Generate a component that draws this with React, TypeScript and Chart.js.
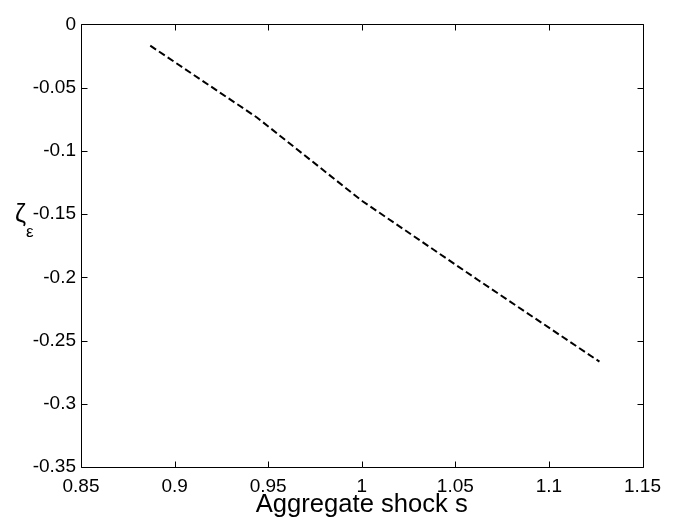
import React, { useEffect, useRef } from "react";
import { Chart, registerables } from "chart.js";

Chart.register(...registerables);

const shockValues = [0.887, 0.944, 1.0, 1.0625, 1.127];
const zetaValues = [-0.0168, -0.0736, -0.1394, -0.2025, -0.2667];
const xTickValues = [0.85, 0.9, 0.95, 1.0, 1.05, 1.1, 1.15];
const yTickValues = [0, -0.05, -0.1, -0.15, -0.2, -0.25, -0.3, -0.35];
const xTitle = "Aggregate shock s";
const yTitleMain = "ζ";
const yTitleSub = "ε";

const FONT = "'Liberation Sans', Arial, Helvetica, sans-serif";

const fmt = (v: number) => String(Number(Number(v).toFixed(2)));

const boxPlugin = {
  id: "matlabBox",
  afterDatasetsDraw(chart: any) {
    const { ctx, chartArea, scales } = chart;
    const { left, right, top, bottom } = chartArea;
    const xs = scales.x;
    const ys = scales.y;
    const tl = 6;
    ctx.save();
    ctx.strokeStyle = "#000";
    ctx.lineWidth = 1;
    ctx.setLineDash([]);
    const L = Math.round(left) + 0.5;
    const R = Math.round(right) + 0.5;
    const T = Math.round(top) + 0.5;
    const B = Math.round(bottom) + 0.5;
    ctx.beginPath();
    ctx.rect(L, T, R - L, B - T);
    ctx.stroke();
    ctx.beginPath();
    xTickValues.forEach((v) => {
      const px = Math.round(xs.getPixelForValue(v)) + 0.5;
      ctx.moveTo(px, B);
      ctx.lineTo(px, B - tl);
      ctx.moveTo(px, T);
      ctx.lineTo(px, T + tl);
    });
    yTickValues.forEach((v) => {
      const py = Math.round(ys.getPixelForValue(v)) + 0.5;
      ctx.moveTo(L, py);
      ctx.lineTo(L + tl, py);
      ctx.moveTo(R, py);
      ctx.lineTo(R - tl, py);
    });
    ctx.stroke();

    ctx.fillStyle = "#000";
    ctx.font = `25.6px ${FONT}`;
    ctx.textAlign = "center";
    ctx.textBaseline = "alphabetic";
    ctx.fillText(xTitle, (left + right) / 2, 504);

    ctx.textAlign = "left";
    ctx.font = `25px ${FONT}`;
    ctx.fillText(yTitleMain, 7, 214);
    ctx.font = `17px ${FONT}`;
    ctx.fillText(yTitleSub, 18, 229);
    ctx.restore();
  },
};

export default function App() {
  const ref = useRef<HTMLCanvasElement | null>(null);
  useEffect(() => {
    if (!ref.current) return;
    const chart = new Chart(ref.current, {
      type: "line",
      data: {
        datasets: [
          {
            data: shockValues.map((x, i) => ({ x, y: zetaValues[i] })),
            borderColor: "#000",
            borderWidth: 2,
            borderDash: [7, 3.5],
            pointRadius: 0,
            fill: false,
            tension: 0,
          },
        ],
      },
      options: {
        responsive: false,
        animation: false,
        devicePixelRatio: 1,
        layout: { padding: { left: 0, top: 7, right: 15, bottom: 0 } },
        plugins: {
          legend: { display: false },
          tooltip: { enabled: false },
          title: { display: false },
        },
        scales: {
          x: {
            type: "linear",
            min: 0.85,
            max: 1.15,
            grid: { display: false, drawTicks: false },
            border: { display: false },
            afterFit: (s: any) => {
              s.height = 50;
            },
            afterBuildTicks: (s: any) => {
              s.ticks = xTickValues.map((v) => ({ value: v }));
            },
            ticks: {
              color: "#000",
              font: { family: FONT, size: 19 },
              padding: 8,
              maxRotation: 0,
              autoSkip: false,
              callback: (v: any) => fmt(v),
            },
          },
          y: {
            type: "linear",
            min: -0.35,
            max: 0,
            grid: { display: false, drawTicks: false },
            border: { display: false },
            afterFit: (s: any) => {
              s.width = 73;
            },
            afterBuildTicks: (s: any) => {
              s.ticks = yTickValues.map((v) => ({ value: v }));
            },
            ticks: {
              color: "#000",
              font: { family: FONT, size: 19 },
              padding: 5,
              autoSkip: false,
              callback: (v: any) => fmt(v),
            },
          },
        },
      },
      plugins: [boxPlugin],
    });
    return () => chart.destroy();
  }, []);
  return (
    <div style={{ width: 661, height: 509 }}>
      <canvas ref={ref} width={661} height={509} style={{ display: "block" }} />
    </div>
  );
}
